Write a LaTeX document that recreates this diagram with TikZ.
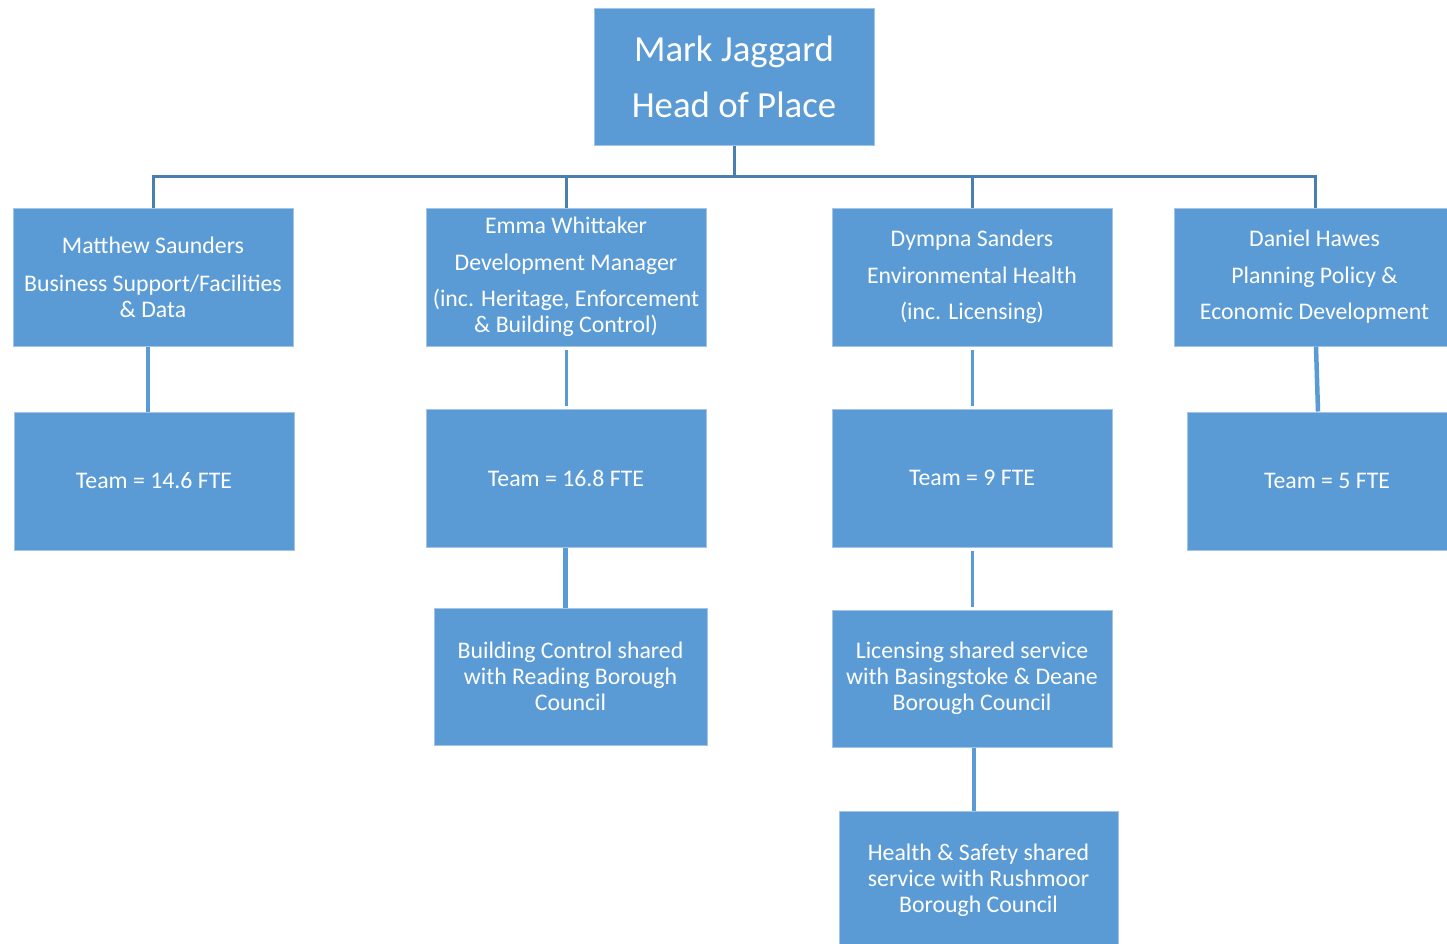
\documentclass[tikz,border=0pt]{standalone}
\usepackage{fontspec}
\setmainfont{Carlito}
\definecolor{boxfill}{HTML}{5B9BD5}
\definecolor{boxedge}{HTML}{A3C4E6}
\definecolor{topline}{HTML}{4A7EB1}
\definecolor{lowline}{HTML}{5B9BD5}
\tikzset{
  orgbox/.style={draw=boxedge, line width=1pt, fill=boxfill, text=white, inner sep=0pt,
    minimum width=280pt, minimum height=138pt, align=center,
    font=\fontsize{23.8}{26}\selectfont},
  headbox/.style={orgbox, font=\fontsize{36.8}{40}\selectfont},
  hline/.style={draw=topline, line width=3pt},
  lline/.style={draw=lowline, line width=3pt},
  lthick/.style={draw=lowline, line width=4.5pt}
}
\begin{document}
\begin{tikzpicture}[x=1pt,y=-1pt]
\useasboundingbox (0,0) rectangle (1447,943);
\node[headbox, minimum height=137pt] (top) at (734,76.5) {Mark Jaggard\\[16pt]Head of Place};
\node[orgbox] (a1) at (153,277) {Matthew Saunders\\[12pt]Business Support/Facilities\\\& Data};
\node[orgbox] (b1) at (566,277) {Emma Whittaker\\[11pt]Development Manager\\[10pt](inc. Heritage, Enforcement\\\& Building Control)};
\node[orgbox] (c1) at (972,277) {Dympna Sanders\\[11pt]Environmental Health\\[10pt](inc. Licensing)};
\node[orgbox, minimum width=281pt] (d1) at (1314.5,277) {Daniel Hawes\\[11pt]Planning Policy \&\\[10pt]Economic Development};
\node[orgbox] (a2) at (154,481) {Team = 14.6 FTE};
\node[orgbox] (b2) at (566,478) {Team = 16.8 FTE};
\node[orgbox] (c2) at (972,478) {Team = 9 FTE};
\node[orgbox] (d2) at (1327,481) {Team = 5 FTE};
\node[orgbox, minimum width=273pt, minimum height=137pt] (b3) at (570.5,676.5) {Building Control shared\\with Reading Borough\\Council};
\node[orgbox, minimum height=137pt] (c3) at (972,678.5) {Licensing shared service\\with Basingstoke \& Deane\\Borough Council};
\node[orgbox, minimum width=279pt, minimum height=138pt] (c4) at (978.5,880) {Health \& Safety shared\\service with Rushmoor\\Borough Council};
% top-level connectors
\coordinate (bar) at (0,176);
\draw[hline] (top.south) -- (top.south |- bar);
\draw[hline, line cap=rect] (a1.north |- bar) -- ([xshift=0.5pt]d1.north |- bar);
\draw[hline] (a1.north) -- (a1.north |- bar);
\draw[hline] (b1.north) -- (b1.north |- bar);
\draw[hline] (c1.north) -- (c1.north |- bar);
\draw[hline] ([xshift=0.5pt]d1.north) -- ([xshift=0.5pt]d1.north |- bar);
% lower connectors
\draw[lthick] ([xshift=-5pt]a1.south) -- ([xshift=-5pt]a1.south |- a2.north);
\draw[lline, shorten <=3pt, shorten >=3pt] ([xshift=0.5pt]b1.south) -- ([xshift=0.5pt]b1.south |- b2.north);
\draw[lline, shorten <=3pt, shorten >=3pt] (c1.south) -- (c1.south |- c2.north);
\draw[lthick] ([xshift=1.5pt]d1.south) -- ([xshift=-9pt]d2.north);
\draw[lthick] ([xshift=-0.5pt]b2.south) -- ([xshift=-0.5pt]b2.south |- b3.north);
\draw[lline, shorten <=3pt, shorten >=3pt] ([xshift=0.5pt]c2.south) -- ([xshift=0.5pt]c2.south |- c3.north);
\draw[lthick] ([xshift=2pt]c3.south) -- ([xshift=2pt]c3.south |- c4.north);
\end{tikzpicture}
\end{document}
